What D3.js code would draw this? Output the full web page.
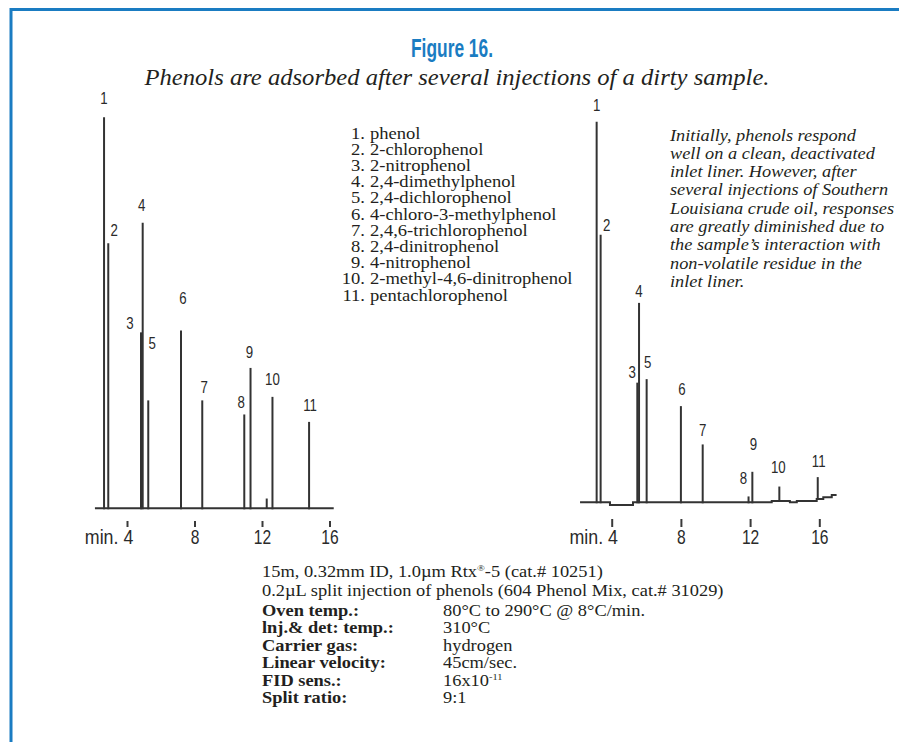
<!DOCTYPE html>
<html>
<head>
<meta charset="utf-8">
<script src="https://cdn.jsdelivr.net/npm/d3@7/dist/d3.min.js"></script>
<style>
  html, body { margin: 0; padding: 0; background: #fff; }
  svg { display: block; }
  .serif { font-family: "Liberation Serif", "Times New Roman", serif; fill: #231f20; }
  .sans { font-family: "Liberation Sans", Arial, sans-serif; fill: #2a2a2a; }
</style>
</head>
<body>
<script>
// ---------------- data ----------------
const peakNumbers = [1, 2, 3, 4, 5, 6, 7, 8, 9, 10, 11];
const compoundNames = [
  "phenol", "2-chlorophenol", "2-nitrophenol", "2,4-dimethylphenol",
  "2,4-dichlorophenol", "4-chloro-3-methylphenol", "2,4,6-trichlorophenol",
  "2,4-dinitrophenol", "4-nitrophenol", "2-methyl-4,6-dinitrophenol",
  "pentachlorophenol"
];
// clean liner (left): retention time (min), response (relative units)
const cleanTimes   = [2.64, 2.89, 4.83, 4.93, 5.26, 7.20, 8.46, 10.95, 11.32, 12.62, 14.79];
const cleanHeights = [100, 67.8, 45.0, 73.0, 27.6, 45.5, 27.6, 24.0, 35.9, 28.5, 22.1];
const cleanMinorTimes = [12.28];
const cleanMinorHeights = [2.5];
const cleanBaselineTimes  = [2.10, 16.25];
const cleanBaselineLevels = [0, 0];
// dirty liner (right)
const dirtyTimes   = [3.13, 3.36, 5.48, 5.58, 6.02, 8.00, 9.26, 11.91, 12.13, 13.69, 15.91];
const dirtyHeights = [97.3, 68.4, 30.6, 51.0, 31.5, 24.6, 14.8, 1.5, 7.8, 3.7, 5.6];
const dirtyBaselineTimes  = [2.17, 3.90, 5.23, 13.25, 14.30, 14.70, 15.85, 16.23, 16.72, 17.00];
const dirtyBaselineLevels = [0, -0.7, 0, 0.33, 0, 0.33, 0.84, 1.28, 1.87, 1.87];
const tickValues = [4, 8, 12, 16];
const tickLabels = ["min. 4", "8", "12", "16"];

const titleText = "Figure 16.";
const subtitleText = "Phenols are adsorbed after several injections of a dirty sample.";
const noteLines = [
  "Initially, phenols respond",
  "well on a clean, deactivated",
  "inlet liner. However, after",
  "several injections of Southern",
  "Louisiana crude oil, responses",
  "are greatly diminished due to",
  "the sample\u2019s interaction with",
  "non-volatile residue in the",
  "inlet liner."
];
const conditionLabels = ["Oven temp.:", "lnj.& det: temp.:", "Carrier gas:", "Linear velocity:", "FID sens.:", "Split ratio:"];
const conditionValues = ["80\u00B0C to 290\u00B0C @ 8\u00B0C/min.", "310\u00B0C", "hydrogen", "45cm/sec.", "16x10|-11", "9:1"];

// ---------------- layout / style ----------------
const W = 899, H = 742;
const blue = "#1a7cc2";
const traceColor = "#333";
const panels = [
  { times: cleanTimes, heights: cleanHeights, minorT: cleanMinorTimes, minorH: cleanMinorHeights,
    bT: cleanBaselineTimes, bL: cleanBaselineLevels,
    x0: 127, x1: 329.5, base: 508.3, axisY: 521, tick: 6, pad: 3,
    labelOff: [[0,-19],[6,-13],[-11,-9],[-1,-18],[4,-58],[2,-33],[2,-14],[-3,-13],[-1,-16],[0,-18],[1,-17]] },
  { times: dirtyTimes, heights: dirtyHeights, minorT: [], minorH: [],
    bT: dirtyBaselineTimes, bL: dirtyBaselineLevels,
    x0: 611.7, x1: 819.3, base: 502.3, axisY: 519, tick: 8, pad: 3,
    labelOff: [[0,-17],[6,-10],[-5,-11],[0,-12],[1,-17],[1,-17],[0,-15],[-5,-19],[1,-28],[-1,-20],[1,-16]] }
];
const pxPer100 = 391;

const svg = d3.select("body").append("svg")
  .attr("width", W).attr("height", H)
  .attr("viewBox", `0 0 ${W} ${H}`);
svg.append("rect").attr("width", W).attr("height", H).attr("fill", "#fff");

// frame
svg.append("path")
  .attr("d", `M11,${H} L11,9.5 L${W},9.5`)
  .attr("fill", "none").attr("stroke", blue).attr("stroke-width", 3);

// title
svg.append("text")
  .attr("x", 452).attr("y", 57)
  .attr("text-anchor", "middle")
  .attr("font-family", "'Liberation Sans', Arial, sans-serif")
  .attr("font-weight", "bold").attr("font-size", 26)
  .attr("textLength", 82).attr("lengthAdjust", "spacingAndGlyphs")
  .attr("fill", blue)
  .text(titleText);
svg.append("text")
  .attr("class", "serif")
  .attr("x", 457).attr("y", 85)
  .attr("text-anchor", "middle")
  .attr("font-style", "italic").attr("font-size", 22.5)
  .attr("textLength", 625).attr("lengthAdjust", "spacingAndGlyphs")
  .text(subtitleText);

// chromatograms
panels.forEach(p => {
  const x = d3.scaleLinear().domain([4, 16]).range([p.x0, p.x1]);
  const y = d3.scaleLinear().domain([0, 100]).range([p.base, p.base - pxPer100]);
  const levelAt = t => {
    let lv = p.bL[0];
    for (let i = 0; i < p.bT.length; i++) if (t >= p.bT[i]) lv = p.bL[i];
    return lv;
  };
  const g = svg.append("g");
  const bpts = p.bT.map((t, i) => [t, p.bL[i]]);
  g.append("path")
    .attr("d", d3.line().x(d => x(d[0])).y(d => y(d[1])).curve(d3.curveStepAfter)(bpts))
    .attr("fill", "none").attr("stroke", traceColor).attr("stroke-width", 2);
  g.selectAll("line.minor").data(p.minorT.map((t, i) => ({ t, h: p.minorH[i] })))
    .join("line").attr("class", "minor")
    .attr("x1", d => x(d.t)).attr("x2", d => x(d.t))
    .attr("y1", d => y(levelAt(d.t))).attr("y2", d => y(levelAt(d.t) + d.h))
    .attr("stroke", traceColor).attr("stroke-width", 2);
  const peaks = p.times.map((t, i) => ({ t, h: p.heights[i], n: peakNumbers[i], off: p.labelOff[i] }));
  g.selectAll("line.peak").data(peaks).join("line").attr("class", "peak")
    .attr("x1", d => x(d.t)).attr("x2", d => x(d.t))
    .attr("y1", d => y(levelAt(d.t)) + 1).attr("y2", d => y(levelAt(d.t) + d.h))
    .attr("stroke", traceColor).attr("stroke-width", 2);
  g.selectAll("text.plab").data(peaks).join("text").attr("class", "plab sans")
    .attr("transform", d => `translate(${x(d.t) + d.off[0]},${y(levelAt(d.t) + d.h) + d.off[1]}) scale(0.78,1)`)
    .attr("dy", "0.36em")
    .attr("text-anchor", "middle").attr("font-size", 17)
    .text(d => d.n);
  const axis = d3.axisBottom(x).tickValues(tickValues)
    .tickFormat((d, i) => tickLabels[i]).tickSize(p.tick).tickPadding(p.pad);
  const ag = g.append("g").attr("transform", `translate(0,${p.axisY})`).call(axis);
  ag.select(".domain").remove();
  ag.selectAll(".tick line").attr("stroke", "#3a3a3a").attr("stroke-width", 2);
  ag.selectAll(".tick text")
    .attr("font-family", "'Liberation Sans', Arial, sans-serif")
    .attr("font-size", 20).attr("fill", "#2a2a2a")
    .attr("transform", "scale(0.78,1)");
  ag.selectAll(".tick text").filter((d, i) => i === 0)
    .attr("text-anchor", "end").attr("x", 6.5)
    .attr("transform", "scale(0.89,1)");
});

// helper: horizontally widened serif text
function wideText(parent, x, y, s) {
  return parent.append("text").attr("transform", `translate(${x},${y}) scale(${s},1)`);
}

// legend of compounds
const lg = svg.append("g").attr("class", "serif").attr("font-size", 16);
compoundNames.forEach((name, i) => {
  const yy = 138.5 + i * 16.2;
  wideText(lg, 365, yy, 1.16).attr("text-anchor", "end").text(peakNumbers[i] + ".");
  wideText(lg, 370, yy, 1.16).text(name);
});

// note
const ng = svg.append("g").attr("class", "serif").attr("font-size", 16.5).attr("font-style", "italic");
noteLines.forEach((line, i) => {
  wideText(ng, 670, 140.5 + i * 18.3, 1.11).text(line);
});

// conditions
const cs = 1.15;
const cg = svg.append("g").attr("class", "serif").attr("font-size", 16);
const l1 = wideText(cg, 262, 576.5, cs);
l1.append("tspan").text("15m, 0.32mm ID, 1.0\u00B5m Rtx");
l1.append("tspan").attr("font-size", 9).attr("dy", -6).text("\u00AE");
l1.append("tspan").attr("dy", 6).text("-5 (cat.# 10251)");
wideText(cg, 262, 596, cs).text("0.2\u00B5L split injection of phenols (604 Phenol Mix, cat.# 31029)");
conditionLabels.forEach((lab, i) => {
  const yy = 615.5 + i * 17.5;
  wideText(cg, 262, yy, cs).attr("font-weight", "bold").text(lab);
  const v = conditionValues[i];
  const t = wideText(cg, 443, yy, cs);
  if (v.includes("|")) {
    const [a, b] = v.split("|");
    t.append("tspan").text(a);
    t.append("tspan").attr("font-size", 9).attr("dy", -6).text(b);
  } else t.text(v);
});
</script>
</body>
</html>
